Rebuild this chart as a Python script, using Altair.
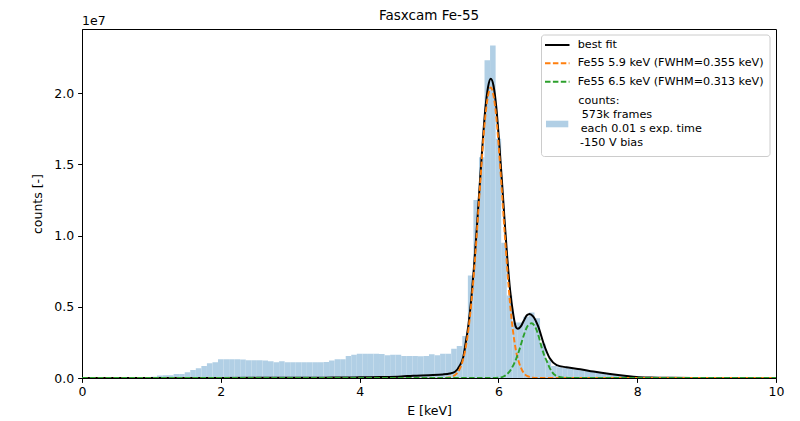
import altair as alt
import pandas as pd

# ---------------- data (counts in units of 1e6) ----------------
BIN_W = 0.08
bin_centers = [0.96, 1.04, 1.12, 1.20, 1.28, 1.36, 1.44, 1.52, 1.60, 1.68, 1.76, 1.84, 1.92,
               2.00, 2.08, 2.16, 2.24, 2.32, 2.40, 2.48, 2.56, 2.64, 2.72, 2.80, 2.88, 2.96,
               3.04, 3.12, 3.20, 3.28, 3.36, 3.44, 3.52, 3.60, 3.68, 3.76, 3.84, 3.92, 4.00,
               4.08, 4.16, 4.24, 4.32, 4.40, 4.48, 4.56, 4.64, 4.72, 4.80, 4.88, 4.96, 5.04,
               5.12, 5.20, 5.28, 5.36, 5.44, 5.52, 5.60, 5.68, 5.76, 5.84, 5.92, 6.00, 6.08,
               6.16, 6.24, 6.32, 6.40, 6.48, 6.56, 6.64, 6.72, 6.80, 6.88, 6.96, 7.04, 7.12,
               7.20, 7.28, 7.36, 7.44, 7.52, 7.60, 7.68, 7.76, 7.84, 7.92, 8.00, 8.08, 8.16,
               8.24]
counts = [0.05, 0.08, 0.17, 0.19, 0.19, 0.28, 0.28, 0.40, 0.56, 0.68, 0.84, 1.03, 1.10,
          1.31, 1.31, 1.31, 1.31, 1.30, 1.24, 1.24, 1.24, 1.22, 1.17, 1.10, 1.17, 1.10,
          1.10, 1.10, 1.10, 1.10, 1.10, 1.10, 1.12, 1.22, 1.31, 1.31, 1.55, 1.64, 1.71,
          1.71, 1.71, 1.71, 1.68, 1.59, 1.64, 1.64, 1.55, 1.55, 1.55, 1.52, 1.55, 1.66,
          1.59, 1.71, 1.71, 2.05, 2.25, 2.95, 7.2, 12.5, 15.5, 22.3, 23.35, 16.8, 9.5,
          5.8, 3.9, 3.9, 4.3, 4.6, 4.2, 2.4, 1.25, 0.85, 0.75, 0.70, 0.65, 0.60,
          0.55, 0.50, 0.45, 0.40, 0.35, 0.30, 0.25, 0.20, 0.15, 0.10, 0.06, 0.03, 0.02,
          0.01]

fit_E = [0.0, 1.0, 2.0, 3.0, 3.5, 3.8, 4.0, 4.3, 4.6, 4.77, 5.0, 5.2, 5.3, 5.375, 5.44,
         5.495, 5.53, 5.57, 5.61, 5.65, 5.69, 5.73, 5.77, 5.81, 5.85, 5.89, 5.93, 5.97,
         6.01, 6.05, 6.09, 6.13, 6.17, 6.21, 6.25, 6.28, 6.32, 6.36, 6.41, 6.45, 6.50,
         6.575, 6.65, 6.74, 6.84, 6.98, 7.18, 7.37, 7.61, 7.85, 7.99, 8.2, 8.5, 9.0, 10.0]
fit_v = [0.0, 0.0, 0.005, 0.015, 0.025, 0.03, 0.05, 0.07, 0.11, 0.16, 0.2, 0.25, 0.32, 0.44,
         0.85, 1.5, 2.5, 3.8, 5.6, 7.9, 10.6, 13.5, 16.3, 18.8, 20.4, 21.0, 20.5, 19.0,
         16.6, 13.9, 11.0, 8.3, 6.1, 4.6, 3.6, 3.45, 3.6, 3.96, 4.4, 4.5, 4.33,
         3.6, 2.44, 1.38, 0.91, 0.75, 0.61, 0.45, 0.28, 0.14, 0.07, 0.03, 0.01, 0.0, 0.0]

k1_E = [0.0, 5.19, 5.29, 5.34, 5.39, 5.44, 5.49, 5.53, 5.57, 5.61, 5.65, 5.69, 5.73, 5.77,
        5.81, 5.85, 5.89, 5.93, 5.97, 6.01, 6.05, 6.09, 6.13, 6.17, 6.21, 6.25, 6.29, 6.34,
        6.39, 6.44, 6.49, 6.59, 10.0]
k1_v = [0.0, 0.002, 0.04, 0.11, 0.27, 0.61, 1.28, 2.17, 3.47, 5.26, 7.5, 10.2, 13.1, 15.9,
        18.3, 19.8, 20.4, 19.8, 18.3, 15.9, 13.1, 10.2, 7.5, 5.1, 3.3, 2.0, 1.2, 0.56,
        0.22, 0.09, 0.03, 0.002, 0.0]

k2_E = [0.0, 5.9, 6.02, 6.08, 6.12, 6.16, 6.19, 6.23, 6.26, 6.30, 6.34, 6.38, 6.41, 6.445,
        6.48, 6.515, 6.55, 6.585, 6.62, 6.66, 6.70, 6.735, 6.77, 6.84, 6.94, 7.05, 10.0]
k2_v = [0.0, 0.0, 0.03, 0.12, 0.26, 0.45, 0.68, 1.05, 1.4, 1.95, 2.6, 3.2, 3.56, 3.78,
        3.84, 3.7, 3.37, 2.85, 2.2, 1.6, 1.15, 0.75, 0.44, 0.14, 0.03, 0.0, 0.0]

title_text = "Fasxcam Fe-55"
labels = ["best fit", "Fe55 5.9 keV (FWHM=0.355 keV)", "Fe55 6.5 keV (FWHM=0.313 keV)"]
count_lines = ["counts:", "573k frames", "each 0.01 s exp. time", "-150 V bias"]

# ---------------- styling ----------------
FONT = "DejaVu Sans"
HIST = "#b1cfe5"
ORANGE = "#ff7f0e"
GREEN = "#2ca02c"
W, H = 694, 349

# step outline of the histogram: each bin's left edge, plus the last bin's right edge
step_x = [c - BIN_W / 2 for c in bin_centers] + [bin_centers[-1] + BIN_W / 2]
step_y = counts + [counts[-1]]
hist = pd.DataFrame({"x": step_x, "c": step_y, "o": list(range(len(step_x)))})

xs = alt.Scale(domain=[0, 10], nice=False)
ys = alt.Scale(domain=[0, 24.5], nice=False)

xaxis = alt.Axis(values=[0, 2, 4, 6, 8, 10], title="E [keV]", grid=False, format="d",
                 labelFontSize=12.5, titleFontSize=12.5, tickSize=4.4, labelPadding=3,
                 titlePadding=7, labelFlush=False)
yaxis = alt.Axis(values=[0, 5, 10, 15, 20], title="counts [-]", grid=False,
                 labelExpr="format(datum.value/10, '.1f')",
                 labelFontSize=12.5, titleFontSize=12.5, tickSize=4.4, labelPadding=4,
                 titlePadding=9)

bars = alt.Chart(hist).mark_area(color=HIST, opacity=1, interpolate="step-after").encode(
    x=alt.X("x:Q", scale=xs, axis=xaxis),
    y=alt.Y("c:Q", scale=ys, axis=yaxis),
    order="o:Q",
)

def line(E, v, color, dash=None, width=1.9):
    df = pd.DataFrame({"E": E, "v": v, "o": list(range(len(E)))})
    kw = dict(color=color, strokeWidth=width, interpolate="monotone", clip=True)
    if dash:
        kw["strokeDash"] = dash
    return alt.Chart(df).mark_line(**kw).encode(
        x=alt.X("E:Q", scale=xs), y=alt.Y("v:Q", scale=ys), order="o:Q")

fit = line(fit_E, fit_v, "black", width=2)
k1 = line(k1_E, k1_v, ORANGE, dash=[5.5, 2.4])
k2 = line(k2_E, k2_v, GREEN, dash=[5.5, 2.4])

one = pd.DataFrame({"a": [0]})
def lg():
    return alt.Chart(one)

legend_layers = [
    lg().mark_rect(fill="white", fillOpacity=0.8, stroke="#cccccc", strokeWidth=1,
                   cornerRadius=3).encode(x=alt.value(459.5), x2=alt.value(688),
                                          y=alt.value(6), y2=alt.value(127.5)),
    lg().mark_rule(color="black", strokeWidth=2).encode(
        x=alt.value(463), x2=alt.value(487.5), y=alt.value(16)),
    lg().mark_rule(color=ORANGE, strokeWidth=1.9, strokeDash=[5.5, 2.4]).encode(
        x=alt.value(463), x2=alt.value(487.5), y=alt.value(34.3)),
    lg().mark_rule(color=GREEN, strokeWidth=1.9, strokeDash=[5.5, 2.4]).encode(
        x=alt.value(463), x2=alt.value(487.5), y=alt.value(52.7)),
    lg().mark_rect(fill=HIST).encode(
        x=alt.value(464), x2=alt.value(486.3), y=alt.value(91.7), y2=alt.value(98.3)),
]
for txt, yy in zip(labels, [16, 34.3, 52.7]):
    legend_layers.append(lg().mark_text(align="left", baseline="middle", font=FONT,
                                        fontSize=11.2, color="black").encode(
        x=alt.value(495.7), y=alt.value(yy), text=alt.value(txt)))
for txt, xx, yy in zip(count_lines, [496.3, 499.7, 498.7, 498], [71.7, 86, 100.3, 114.3]):
    legend_layers.append(lg().mark_text(align="left", baseline="middle", font=FONT,
                                        fontSize=11.2, color="black").encode(
        x=alt.value(xx), y=alt.value(yy), text=alt.value(txt)))

offset_text = lg().mark_text(align="left", baseline="alphabetic", font=FONT,
                             fontSize=12.5, color="black").encode(
    x=alt.value(0), y=alt.value(-4), text=alt.value("1e7"))

title_mark = lg().mark_text(align="center", baseline="alphabetic", font=FONT,
                            fontSize=13.5, color="black").encode(
    x=alt.value(W / 2), y=alt.value(-9), text=alt.value(title_text))

chart = alt.layer(bars, fit, k1, k2, *legend_layers, offset_text, title_mark).properties(
    width=W, height=H,
    autosize=alt.AutoSizeParams(type="none"),
    padding={"left": 74, "top": 21, "right": 16, "bottom": 43},
).configure_view(stroke="black", strokeWidth=1).configure_axis(
    labelFont=FONT, titleFont=FONT, labelColor="black", titleColor="black",
    domainColor="black", tickColor="black", titleFontWeight="normal", domainWidth=1,
    tickWidth=1,
)

chart.save("out.html", embed_options={"renderer": "svg", "actions": False})
